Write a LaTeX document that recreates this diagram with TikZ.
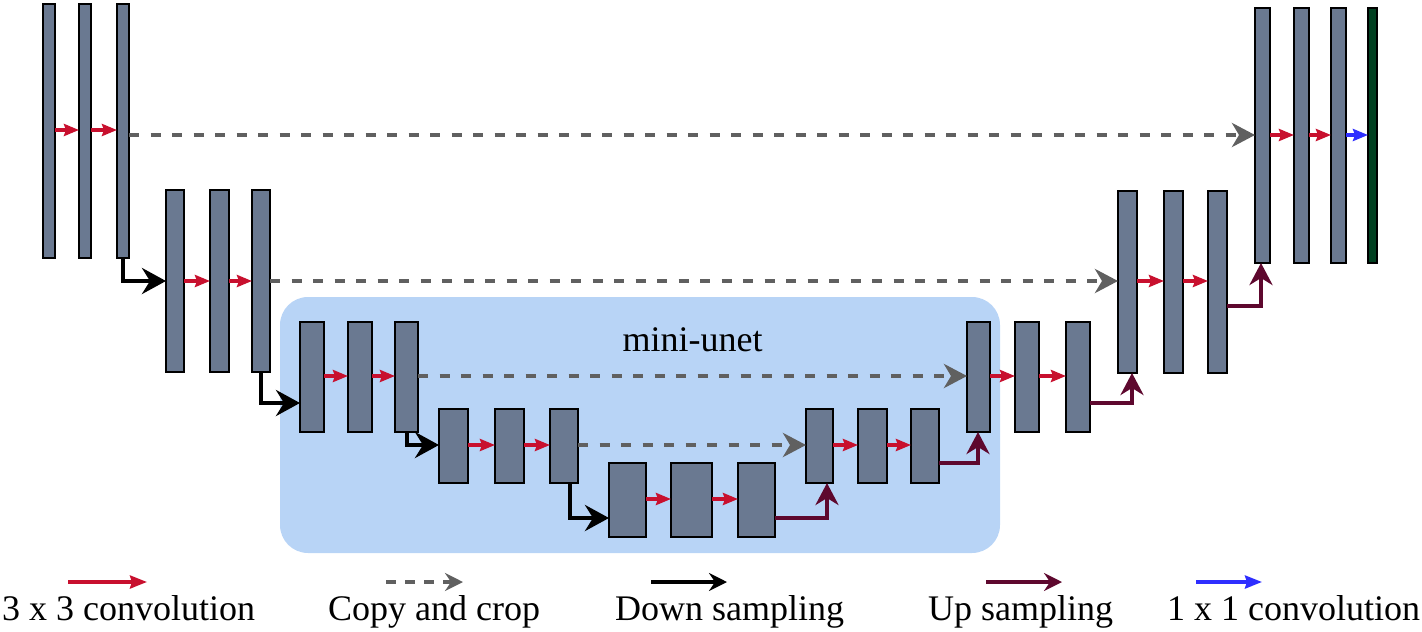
\documentclass[tikz,border=0pt]{standalone}
\usepackage{fontspec}
\setmainfont{Liberation Serif}
\usetikzlibrary{arrows.meta}
\definecolor{barc}{RGB}{106,121,145}
\definecolor{boxc}{RGB}{184,212,246}
\definecolor{convred}{RGB}{200,16,46}
\definecolor{upc}{RGB}{94,8,46}
\definecolor{copyc}{RGB}{96,96,96}
\definecolor{onec}{RGB}{46,46,255}
\definecolor{outc}{RGB}{0,64,32}
\begin{document}
\begin{tikzpicture}[x=1pt,y=-1pt,
  bar/.style={draw=black,line width=1.8pt,fill=barc,inner sep=0pt,outer sep=0pt},
  conv/.style={draw=convred,line width=3.5pt,-{Stealth[length=15pt,width=12pt,inset=2pt]}},
  onebyone/.style={draw=onec,line width=3.5pt,-{Stealth[length=15pt,width=12pt,inset=2pt]}},
  copyarr/.style={draw=copyc,line width=4pt,dash pattern=on 10pt off 11.5pt,-{Stealth[length=23pt,width=24pt,inset=7pt]}},
  downarr/.style={draw=black,line width=4pt,-{Stealth[length=24pt,width=26pt,inset=8pt]}},
  uparr/.style={draw=upc,line width=3.8pt,-{Stealth[length=22pt,width=23pt,inset=7pt]}},
  lbl/.style={inner sep=0pt,font=\fontsize{36}{40}\selectfont}]
\useasboundingbox (0,0) rectangle (1422,632);
% mini-unet box
\node[fill=boxc,rounded corners=28pt,minimum width=720pt,minimum height=256pt,inner sep=0pt] (box) at (640,425) {};
\node[lbl,anchor=base] (mu) at (692.5,351) {mini-unet};
% level 0
\node[bar,minimum width=12pt,minimum height=254pt] (a1) at (49,131) {};
\node[bar,minimum width=12pt,minimum height=254pt] (a2) at (85,131) {};
\node[bar,minimum width=12pt,minimum height=254pt] (a3) at (123,131) {};
% level 1
\node[bar,minimum width=18pt,minimum height=182pt] (b1) at (175,281) {};
\node[bar,minimum width=19pt,minimum height=182pt] (b2) at (219.5,281) {};
\node[bar,minimum width=18pt,minimum height=182pt] (b3) at (261,281) {};
% level 2
\node[bar,minimum width=24pt,minimum height=110pt] (c1) at (312,377) {};
\node[bar,minimum width=24pt,minimum height=110pt] (c2) at (360,377) {};
\node[bar,minimum width=23pt,minimum height=110pt] (c3) at (406.5,377) {};
% level 3
\node[bar,minimum width=29pt,minimum height=74pt] (d1) at (453.5,446) {};
\node[bar,minimum width=29pt,minimum height=74pt] (d2) at (509.5,446) {};
\node[bar,minimum width=28pt,minimum height=74pt] (d3) at (564,446) {};
% level 4
\node[bar,minimum width=37pt,minimum height=74pt] (e1) at (627.5,500) {};
\node[bar,minimum width=41pt,minimum height=74pt] (e2) at (691.5,500) {};
\node[bar,minimum width=37pt,minimum height=74pt] (e3) at (756.5,500) {};
% level 3 up
\node[bar,minimum width=27pt,minimum height=74pt] (f1) at (819.5,446) {};
\node[bar,minimum width=29pt,minimum height=74pt] (f2) at (872.5,446) {};
\node[bar,minimum width=28pt,minimum height=74pt] (f3) at (925,446) {};
% level 2 up
\node[bar,minimum width=23pt,minimum height=110pt] (g1) at (978.5,377) {};
\node[bar,minimum width=24pt,minimum height=110pt] (g2) at (1027,377) {};
\node[bar,minimum width=24pt,minimum height=110pt] (g3) at (1078,377) {};
% level 1 up
\node[bar,minimum width=19pt,minimum height=182pt] (h1) at (1127.5,282) {};
\node[bar,minimum width=19pt,minimum height=182pt] (h2) at (1173.5,282) {};
\node[bar,minimum width=19pt,minimum height=182pt] (h3) at (1217.5,282) {};
% level 0 up
\node[bar,minimum width=15pt,minimum height=255pt] (k1) at (1262.5,135.5) {};
\node[bar,minimum width=15pt,minimum height=255pt] (k2) at (1301.5,135.5) {};
\node[bar,minimum width=15pt,minimum height=255pt] (k3) at (1338.5,135.5) {};
\node[bar,fill=outc,minimum width=9pt,minimum height=255pt] (k4) at (1372.5,135.5) {};
% helper levels
\coordinate (yl0) at (0,130);
\coordinate (yr0) at (0,135);
\coordinate (y1) at (0,281);
\coordinate (y2) at (0,376);
\coordinate (y3) at (0,445);
\coordinate (y4) at (0,499);
\coordinate (yd2) at (0,403);
\coordinate (yd4) at (0,518);
\coordinate (yu3) at (0,463);
\coordinate (yu2) at (0,403);
\coordinate (yu1) at (0,306);
\coordinate (xd4) at (570,0);
\coordinate (xu4) at (827,0);
\coordinate (xu3) at (978,0);
\coordinate (xu2) at (1132,0);
\coordinate (xu1) at (1261,0);
% convolutions
\draw[conv] (a1.east |- yl0) -- (a2.west |- yl0);
\draw[conv] (a2.east |- yl0) -- (a3.west |- yl0);
\draw[conv] (b1.east |- y1) -- (b2.west |- y1);
\draw[conv] (b2.east |- y1) -- (b3.west |- y1);
\draw[conv] (c1.east |- y2) -- (c2.west |- y2);
\draw[conv] (c2.east |- y2) -- (c3.west |- y2);
\draw[conv] (d1.east |- y3) -- (d2.west |- y3);
\draw[conv] (d2.east |- y3) -- (d3.west |- y3);
\draw[conv] (e1.east |- y4) -- (e2.west |- y4);
\draw[conv] (e2.east |- y4) -- (e3.west |- y4);
\draw[conv] (f1.east |- y3) -- (f2.west |- y3);
\draw[conv] (f2.east |- y3) -- (f3.west |- y3);
\draw[conv] (g1.east |- y2) -- (g2.west |- y2);
\draw[conv] (g2.east |- y2) -- (g3.west |- y2);
\draw[conv] (h1.east |- y1) -- (h2.west |- y1);
\draw[conv] (h2.east |- y1) -- (h3.west |- y1);
\draw[conv] (k1.east |- yr0) -- (k2.west |- yr0);
\draw[conv] (k2.east |- yr0) -- (k3.west |- yr0);
\draw[onebyone] (k3.east |- yr0) -- (k4.west |- yr0);
% copy and crop
\draw[copyarr] (a3.east |- yr0) -- (k1.west |- yr0);
\draw[copyarr] (b3.east |- y1) -- (h1.west |- y1);
\draw[copyarr] (c3.east |- y2) -- (g1.west |- y2);
\draw[copyarr] (d3.east |- y3) -- (f1.west |- y3);
% down sampling
\draw[downarr] (a3.south) -- (a3.south |- y1) -- (b1.west |- y1);
\draw[downarr] (b3.south) -- (b3.south |- yd2) -- (c1.west |- yd2);
\draw[downarr] (c3.south) -- (c3.south |- y3) -- (d1.west |- y3);
\draw[downarr] (d3.south -| xd4) -- (xd4 |- yd4) -- (e1.west |- yd4);
% up sampling
\draw[uparr] (e3.east |- yd4) -- (xu4 |- yd4) -- (xu4 |- f1.south);
\draw[uparr] (f3.east |- yu3) -- (xu3 |- yu3) -- (xu3 |- g1.south);
\draw[uparr] (g3.east |- yu2) -- (xu2 |- yu2) -- (xu2 |- h1.south);
\draw[uparr] (h3.east |- yu1) -- (xu1 |- yu1) -- (xu1 |- k1.south);
% legend
\coordinate (l1a) at (68,582); \coordinate (l1b) at (147,582);
\coordinate (l2a) at (386,582); \coordinate (l2b) at (463,582);
\coordinate (l3a) at (651,582); \coordinate (l3b) at (727,582);
\coordinate (l4a) at (986,582); \coordinate (l4b) at (1062,582);
\coordinate (l5a) at (1196,582); \coordinate (l5b) at (1262,582);
\draw[conv,-{Stealth[length=17pt,width=13pt,inset=2pt]}] (l1a) -- (l1b);
\draw[copyarr,line width=3.8pt,dash pattern=on 10pt off 9pt,-{Stealth[length=18pt,width=18pt,inset=6pt]}] (l2a) -- (l2b);
\draw[downarr,line width=3.8pt,-{Stealth[length=18pt,width=18pt,inset=6pt]}] (l3a) -- (l3b);
\draw[uparr,line width=3.8pt,-{Stealth[length=18pt,width=18pt,inset=6pt]}] (l4a) -- (l4b);
\draw[onebyone,-{Stealth[length=17pt,width=13pt,inset=2pt]}] (l5a) -- (l5b);
\node[lbl,anchor=base west] (t1) at (2,620) {3 x 3 convolution};
\node[lbl,anchor=base west] (t2) at (328,620) {Copy and crop};
\node[lbl,anchor=base west] (t3) at (615,620) {Down sampling};
\node[lbl,anchor=base west] (t4) at (928,620) {Up sampling};
\node[lbl,anchor=base west] (t5) at (1167,620) {1 x 1 convolution};
\end{tikzpicture}
\end{document}
